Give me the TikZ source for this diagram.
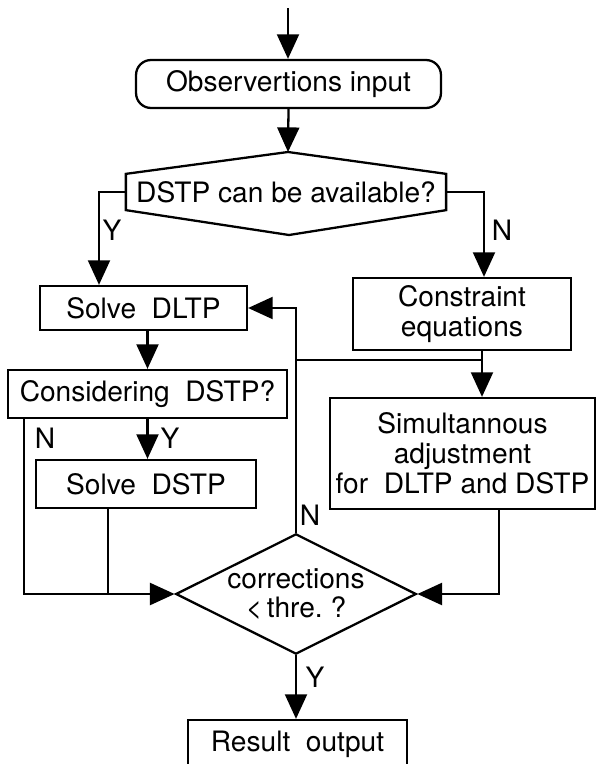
\documentclass[tikz,border=0pt]{standalone}
\usepackage{fontspec}
\setmainfont{TeX Gyre Heros}
\usepackage{tikz}
\usetikzlibrary{arrows.meta,shapes.geometric}

\begin{document}
\begin{tikzpicture}[x=0.02cm, y=-0.02cm, line width=1.3pt,
  font=\fontsize{16}{17}\selectfont,
  flowBox/.style={draw, rectangle, inner sep=0pt, align=center},
  flowArrow/.style={-{Triangle[length=14pt,width=12.5pt]}},
  tag/.style={inner sep=0pt}]
\useasboundingbox (0,0) rectangle (600,764);
\node[flowBox, rounded corners=0.3cm, minimum width=6.1cm, minimum height=0.96cm] (obs) at (288.5,84) {Observertions input};
\node[inner sep=0pt, minimum width=6.36cm, minimum height=0.68cm] (avail) at (286,192) {DSTP can be available?};
\coordinate (avail top) at (288,152);
\coordinate (avail bot) at (289,235);
\draw (avail.north west) -- (avail top) -- (avail.north east) -- (avail.south east) -- (avail bot) -- (avail.south west) -- cycle;
\node[flowBox, minimum width=4.14cm, minimum height=0.88cm] (dltp) at (143.5,308) {Solve\ \ DLTP};
\node[flowBox, minimum width=4.36cm, minimum height=1.44cm] (cons) at (462,314) {Constraint\\equations};
\node[flowBox, minimum width=5.58cm, minimum height=0.96cm] (consid) at (147.5,394) {Considering\ \ DSTP?};
\node[flowBox, minimum width=4.4cm, minimum height=0.96cm] (dstp) at (146,484) {Solve\ \ DSTP};
\node[flowBox, minimum width=5.3cm, minimum height=2.22cm] (simul) at (462.5,453.5) {Simultannous\\adjustment\\for\ \ DLTP and DSTP};
\node[draw, diamond, aspect=2, inner sep=0pt, minimum width=4.7cm, minimum height=2.38cm, align=center] (corr) at (296,594) {corrections\\<\,thre.\ ?};
\node[flowBox, minimum width=4.38cm, minimum height=0.96cm] (result) at (297.5,744) {Result\ \ output};

% columns of the vertical lines
\coordinate (in) at (288,8);
\coordinate (ycol) at (99,0);
\coordinate (ncol) at (484,0);
\coordinate (rcol) at (482,0);
\coordinate (lcol) at (24,0);
\coordinate (dcol) at (108,0);
\coordinate (scol) at (499,0);
\coordinate (jn) at (482,360);

\draw[flowArrow] (in) -- (in |- obs.north);
\draw[flowArrow] (obs.south) -- (avail top);
\draw[flowArrow] (avail.west) -| (dltp.north -| ycol);
\draw[flowArrow] (avail.east) -| (cons.north -| ncol);
\draw[flowArrow] (consid.north |- dltp.south) -- (consid.north);
\draw[flowArrow] (consid.south) -- (consid.south |- dstp.north);
\draw[flowArrow] (consid.south -| lcol) |- (corr.west);
\draw (dstp.south -| dcol) -- (dcol |- corr.west);
\draw[flowArrow] (corr.north) |- (dltp.east);
\draw[flowArrow] (cons.south -| rcol) -- (simul.north -| rcol);
\draw (jn) -- (jn -| corr.north);
\draw[flowArrow] (simul.south -| scol) |- (corr.east);
\draw[flowArrow] (corr.south) -- (corr.south |- result.north);

\node[tag] (y1) at (112,230) {Y};
\node[tag] (n1) at (502,230) {N};
\node[tag] (n2) at (45,438) {N};
\node[tag] (y2) at (170,438) {Y};
\node[tag] (n3) at (310,515) {N};
\node[tag] (y3) at (315,677) {Y};
\end{tikzpicture}
\end{document}
